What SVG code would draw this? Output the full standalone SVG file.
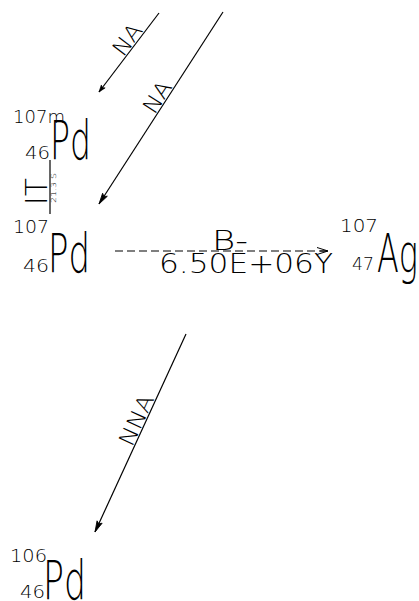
<svg xmlns="http://www.w3.org/2000/svg" width="419" height="601" viewBox="0 0 419 601">
<style>
text{font-family:"DejaVu Sans","Liberation Sans",Arial,sans-serif;font-weight:200;fill:#000}
.ln{stroke:#000;stroke-width:1.2;fill:none}
.lbl{font-size:22px;text-anchor:middle}
.sym{font-size:53px}
.num{font-size:18px}
.big{font-size:27px}
</style>
<defs>
<marker id="ah" markerUnits="userSpaceOnUse" markerWidth="14" markerHeight="10" refX="12" refY="5" orient="auto" viewBox="0 0 14 10">
<path d="M12,5 L1,2.2 L3,5 L1,7.8 Z" fill="#000" stroke="#000" stroke-width="0.8"/>
</marker>
<marker id="ahs" markerUnits="userSpaceOnUse" markerWidth="10" markerHeight="8" refX="8" refY="4" orient="auto" viewBox="0 0 10 8">
<path d="M8,4 L1,1.6 L2.5,4 L1,6.4 Z" fill="#000" stroke="#000" stroke-width="0.6"/>
</marker>
<marker id="ahd" markerUnits="userSpaceOnUse" markerWidth="14" markerHeight="10" refX="12" refY="5" orient="auto" viewBox="0 0 14 10">
<path d="M1,1.5 L12,5 L1,8.5 M4,5 L12,5" fill="none" stroke="#000" stroke-width="1"/>
</marker>
</defs>

<g id="connectors">
<line id="na1" class="ln" x1="159" y1="13" x2="99" y2="92" marker-end="url(#ahs)"/>
<line id="na2" class="ln" x1="223" y1="12" x2="99" y2="204" marker-end="url(#ah)"/>
<line id="nna" class="ln" x1="186" y1="334" x2="95" y2="532" marker-end="url(#ah)"/>
<line id="beta" class="ln" x1="115" y1="251" x2="328" y2="251" stroke-dasharray="8,4" marker-end="url(#ahd)"/>
<line id="it" class="ln" x1="50" y1="160" x2="50" y2="214"/>
<g transform="translate(134.6,45.1) rotate(-52.8)"><text class="lbl" x="0" y="-1.5" textLength="34" lengthAdjust="spacingAndGlyphs">NA</text></g>
<g transform="translate(164.9,102) rotate(-57.1)"><text class="lbl" x="0" y="-1.5" textLength="34" lengthAdjust="spacingAndGlyphs">NA</text></g>
<g transform="translate(144.7,423.9) rotate(-65.3)"><text class="lbl" x="0" y="-1.5" textLength="54" lengthAdjust="spacingAndGlyphs">NNA</text></g>
<g transform="translate(47,205) rotate(-90)"><text x="0" y="0" style="font-size:30px" textLength="27" lengthAdjust="spacingAndGlyphs">IT</text></g>
<g transform="translate(56,203) rotate(-90)"><text x="0" y="0" style="font-size:7px" textLength="30" lengthAdjust="spacingAndGlyphs">21.3 S</text></g>
<text class="big" x="212" y="250" textLength="36" lengthAdjust="spacingAndGlyphs">B-</text>
<text class="big" x="159" y="273" textLength="174" lengthAdjust="spacingAndGlyphs">6.50E+06Y</text>
</g>

<g id="pd107m">
<text class="num" x="13" y="123" textLength="52" lengthAdjust="spacingAndGlyphs">107m</text>
<text class="num" x="25" y="159" textLength="25" lengthAdjust="spacingAndGlyphs">46</text>
<text class="sym" x="50" y="159" textLength="41" lengthAdjust="spacingAndGlyphs">Pd</text>
</g>

<g id="pd107">
<text class="num" x="13" y="233" textLength="36" lengthAdjust="spacingAndGlyphs">107</text>
<text class="num" x="23" y="272" textLength="26" lengthAdjust="spacingAndGlyphs">46</text>
<text class="sym" x="48" y="272" textLength="42" lengthAdjust="spacingAndGlyphs">Pd</text>
</g>

<g id="ag107">
<text class="num" x="340" y="232" textLength="38" lengthAdjust="spacingAndGlyphs">107</text>
<text class="num" x="352" y="270" textLength="22" lengthAdjust="spacingAndGlyphs">47</text>
<text class="sym" x="377" y="272" textLength="41" lengthAdjust="spacingAndGlyphs">Ag</text>
</g>

<g id="pd106">
<text class="num" x="10" y="562" textLength="37" lengthAdjust="spacingAndGlyphs">106</text>
<text class="num" x="20" y="598" textLength="25" lengthAdjust="spacingAndGlyphs">46</text>
<text class="sym" x="43" y="599" textLength="43" lengthAdjust="spacingAndGlyphs">Pd</text>
</g>
</svg>
